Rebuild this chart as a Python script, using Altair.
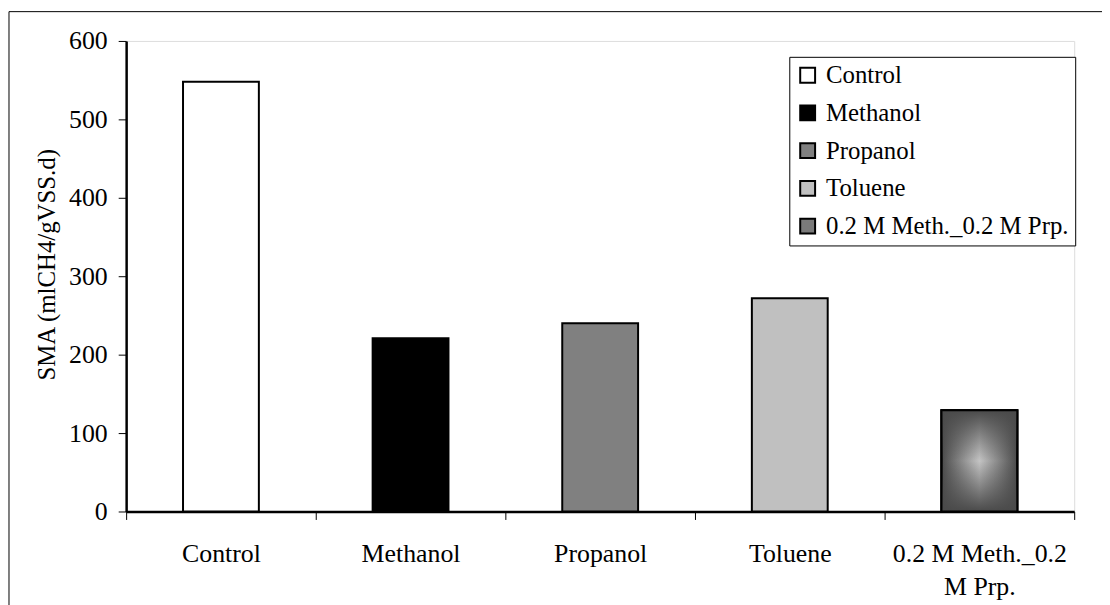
import altair as alt
import pandas as pd

categories = ["Control", "Methanol", "Propanol", "Toluene", "0.2 M Meth._0.2 M Prp."]
sma_values = [548, 221, 240, 272, 129]
bar_colors = ["#ffffff", "#000000", "#808080", "#c0c0c0", "#7a7a7a"]
y_ticks = [0, 100, 200, 300, 400, 500, 600]
mix_label = categories[4]

df = pd.DataFrame({"category": categories, "value": sma_values})

FONT = "Liberation Serif"
FS = 25
AFS = 26

x_enc = alt.X(
    "category:N",
    sort=categories,
    scale=alt.Scale(paddingInner=0, paddingOuter=0),
    axis=alt.Axis(
        title=None,
        labelAngle=0,
        tickBand="extent",
        tickSize=8,
        tickWidth=1,
        tickColor="black",
        labelPadding=21,
        labelLineHeight=34,
        labelFont=FONT,
        labelFontSize=AFS,
        labelColor="black",
        labelLimit=400,
        domainColor="black",
        domainWidth=2.5,
        labelExpr="datum.value == '0.2 M Meth._0.2 M Prp.' ? ['0.2 M Meth._0.2', 'M Prp.'] : datum.value",
    ),
)
y_enc = alt.Y(
    "value:Q",
    scale=alt.Scale(domain=[0, 600], nice=False),
    axis=alt.Axis(
        title="SMA (mlCH4/gVSS.d)",
        values=y_ticks,
        grid=False,
        tickSize=8,
        tickWidth=1,
        tickColor="black",
        labelPadding=11,
        labelFont=FONT,
        labelFontSize=AFS,
        labelColor="black",
        domainColor="black",
        domainWidth=2.5,
        titleFont=FONT,
        titleFontSize=FS,
        titleFontWeight="normal",
        titleColor="black",
        titleAngle=270,
        titleAlign="center",
        titleBaseline="alphabetic",
        titleX=-72,
        titleY=225,
    ),
)

base = alt.Chart(df)

bars = base.mark_bar(
    width=alt.RelativeBandSize(0.4), stroke="black", strokeWidth=2
).encode(
    x=x_enc,
    y=y_enc,
    color=alt.Color(
        "category:N",
        sort=categories,
        scale=alt.Scale(domain=categories, range=bar_colors),
        legend=alt.Legend(
            title=None,
            orient="none",
            legendX=668,
            legendY=16,
            strokeColor="black",
            fillColor="white",
            padding=6,
            symbolType="square",
            symbolSize=225,
            symbolStrokeColor="black",
            symbolStrokeWidth=2,
            symbolOpacity=1,
            labelFont=FONT,
            labelFontSize=FS,
            labelColor="black",
            labelOffset=6,
            labelLimit=400,
            rowPadding=12,
        ),
    ),
)

grad_h = alt.LinearGradient(
    gradient="linear",
    stops=[
        alt.GradientStop(color="#4a4a4a", offset=0),
        alt.GradientStop(color="#c4c4c4", offset=0.5),
        alt.GradientStop(color="#4a4a4a", offset=1),
    ],
    x1=0, x2=1, y1=0, y2=0,
)
grad_v = alt.LinearGradient(
    gradient="linear",
    stops=[
        alt.GradientStop(color="rgba(74,74,74,1)", offset=0),
        alt.GradientStop(color="rgba(74,74,74,0)", offset=0.5),
        alt.GradientStop(color="rgba(74,74,74,1)", offset=1),
    ],
    x1=0, x2=0, y1=0, y2=1,
)

mix_h = base.mark_bar(
    width=alt.RelativeBandSize(0.4), fill=grad_h, stroke="black", strokeWidth=2
).encode(x=x_enc, y=y_enc).transform_filter(alt.datum.category == mix_label)

mix_v = base.mark_bar(
    width=alt.RelativeBandSize(0.4), fill=grad_v, stroke="black", strokeWidth=2
).encode(x=x_enc, y=y_enc).transform_filter(alt.datum.category == mix_label)

frame = alt.Chart(pd.DataFrame({"f": [0]})).mark_rect(
    fill=None, stroke="black", strokeWidth=1, clip=False
).encode(
    x=alt.value(-118), x2=alt.value(1010),
    y=alt.value(-29.5), y2=alt.value(600),
)

chart = alt.layer(bars, mix_h, mix_v, frame).properties(
    width=955,
    height=474,
    autosize=alt.AutoSizeParams(type="none"),
    padding={"left": 119, "top": 31, "right": 28, "bottom": 92},
).configure_view(
    stroke="black", strokeWidth=2
).configure(background="white")

chart.save("out.html", embed_options={"renderer": "svg", "actions": False})
